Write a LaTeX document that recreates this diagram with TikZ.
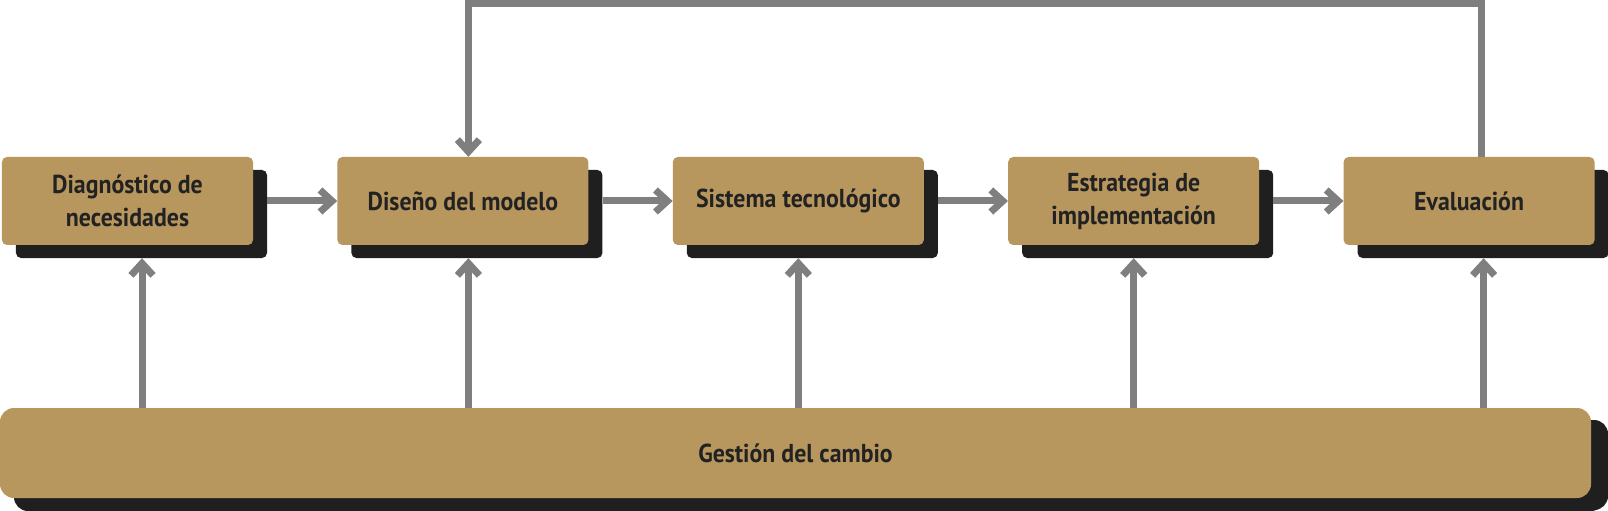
\documentclass[tikz,border=0pt]{standalone}
\usepackage{fontspec}
\newfontfamily\rotulo{PT Sans}[FakeStretch=0.92]
\usepackage{xcolor}
\usepackage{tikz}
\usetikzlibrary{positioning}
\usetikzlibrary{shadows}
\usetikzlibrary{arrows.meta}
\definecolor{ocre}{HTML}{B8975E}
\definecolor{sombra}{HTML}{1F1F1F}
\definecolor{gris}{HTML}{7F7F7F}
\definecolor{letra}{HTML}{222222}

\begin{document}
\begin{tikzpicture}[x=1bp,y=-1bp,node distance=84bp,
  caja/.style={fill=ocre,rounded corners=5bp,minimum width=251bp,minimum height=88bp,
    align=center,text=letra,font=\rotulo\bfseries\fontsize{26}{33}\selectfont,
    general shadow={fill=sombra,shadow xshift=14bp,shadow yshift=-13bp}},
  flecha/.style={draw=gris,line width=7bp,line join=miter,-{Straight Barb[length=12bp,width=22bp]}}]
\useasboundingbox (0,0) rectangle (1608,511);
\node[caja]   (diag) at (127.5,201)       {Diagnóstico de\\necesidades};
\node[caja]   (diseno) [right=of diag]    {Diseño del modelo};
\node[caja]   (sistema) [right=of diseno] {Sistema tecnológico};
\node[caja]   (estrat) [right=of sistema] {Estrategia de\\implementación};
\node[caja]   (eval) [right=of estrat]    {Evaluación};
\node[caja,minimum width=1591bp,minimum height=90bp,rounded corners=14bp,
      general shadow={fill=sombra,shadow xshift=17bp,shadow yshift=-12bp}]
              (gestion) at (795.5,453)    {Gestión del cambio};
\foreach \a/\b in {diag/diseno,diseno/sistema,sistema/estrat,estrat/eval}
  \draw[flecha] ([xshift=14bp]\a.east) -- (\b.west);
\foreach \n/\dx in {diag/14.5,diseno/5.5,sistema/0,estrat/0,eval/14.5}
  \draw[flecha] ([xshift=\dx bp]\n.south |- gestion.north) -- ([xshift=\dx bp,yshift=-13bp]\n.south);
\draw[flecha] ([xshift=12bp]eval.north) -- ++(0,-153) -| ([xshift=5.5bp]diseno.north);
\end{tikzpicture}
\end{document}
